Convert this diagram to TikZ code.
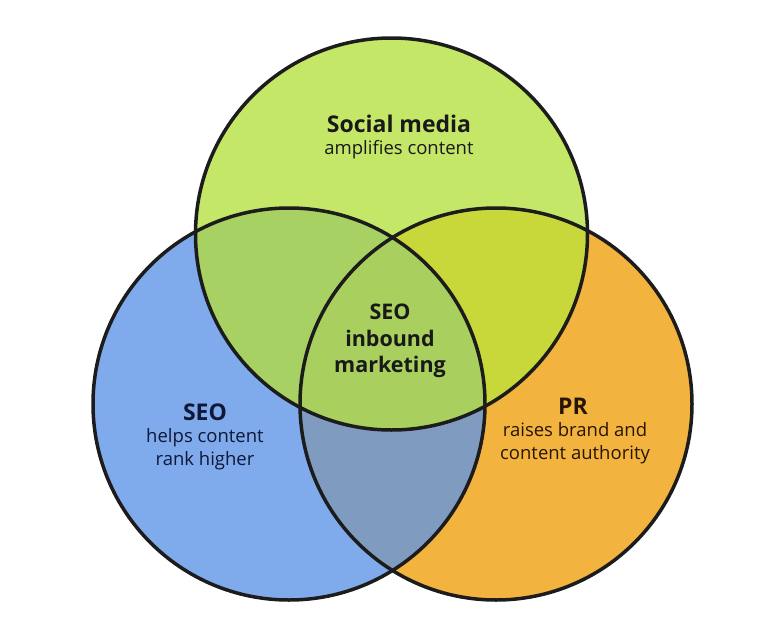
\documentclass[tikz,border=0pt]{standalone}
\usepackage{fontspec}
\setmainfont{Open Sans}
\definecolor{cgreen}{HTML}{C5E768}
\definecolor{cblue}{HTML}{7FAAEB}
\definecolor{corange}{HTML}{F2B33F}
\definecolor{cgb}{HTML}{A7D163}
\definecolor{cgo}{HTML}{C8D83A}
\definecolor{cbo}{HTML}{7F9BC0}
\definecolor{call}{HTML}{A9CF5E}
\definecolor{outline}{HTML}{1C1C1C}
\begin{document}
\begin{tikzpicture}[x=1pt,y=-1pt,
  title/.style={font=\fontsize{23}{26}\selectfont\bfseries, align=center},
  sub/.style={font=\fontsize{18.5}{22}\selectfont, align=center},
  ring/.style={draw=outline, line width=3.5pt}]
\useasboundingbox (0,0) rectangle (782,637);
\fill[white] (0,0) rectangle (782,637);
\def\R{196}
\coordinate (ct) at (391.5,234);
\coordinate (cl) at (289,404);
\coordinate (cr) at (496,404);
% base fills
\fill[cgreen] (ct) circle[radius=\R];
\fill[cblue] (cl) circle[radius=\R];
\fill[corange] (cr) circle[radius=\R];
% pairwise
\begin{scope}\clip (ct) circle[radius=\R]; \fill[cgb] (cl) circle[radius=\R];\end{scope}
\begin{scope}\clip (ct) circle[radius=\R]; \fill[cgo] (cr) circle[radius=\R];\end{scope}
\begin{scope}\clip (cl) circle[radius=\R]; \fill[cbo] (cr) circle[radius=\R];\end{scope}
\begin{scope}\clip (ct) circle[radius=\R]; \clip (cl) circle[radius=\R]; \fill[call] (cr) circle[radius=\R];\end{scope}
% outlines
\draw[ring] (ct) circle[radius=\R];
\draw[ring] (cl) circle[radius=\R];
\draw[ring] (cr) circle[radius=\R];
% texts
\node[title, text=black!90] (smt) at (399,124) {Social media};
\node[sub, text=black!90] (sms) at (399,150) {amplifies content};
\node[title, text=black!90, font=\fontsize{21.5}{26.5}\selectfont\bfseries] (mid) at (390,341) {SEO\\inbound\\marketing};
\node[title, text={rgb,255:red,14;green,24;blue,56}] (seot) at (205,412) {SEO};
\node[sub, text={rgb,255:red,14;green,24;blue,56}, font=\fontsize{18.5}{22.5}\selectfont] (seos) at (205,449) {helps content\\rank higher};
\node[title, text={rgb,255:red,40;green,22;blue,5}] (prt) at (573,406) {PR};
\node[sub, text={rgb,255:red,40;green,22;blue,5}, font=\fontsize{18.5}{22.5}\selectfont] (prs) at (575,443) {raises brand and\\content authority};
\end{tikzpicture}
\end{document}
